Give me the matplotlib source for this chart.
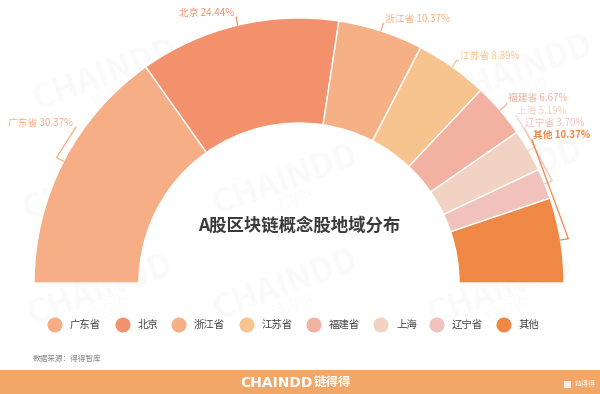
import matplotlib
matplotlib.use('Agg')
import matplotlib.pyplot as plt
from matplotlib.patches import Wedge, Circle, Rectangle
import numpy as np

plt.rcParams['font.family'] = ['Noto Sans CJK SC', 'DejaVu Sans']

# data
regions = ['广东省', '北京', '浙江省', '江苏省', '福建省', '上海', '辽宁省', '其他']
shares = [30.37, 24.44, 10.37, 8.89, 6.67, 5.19, 3.70, 10.37]
colors = ['#F5AE85', '#F4916D', '#F6B086', '#F7C38E', '#F2B1A1', '#F2D3C3', '#F1C1BB', '#EF8844']

# label anchors in pixel coords (x, y from top), side
label_pos = [(73, 123, 'right'), (234, 13, 'right'), (385, 19, 'left'), (460, 56, 'left'),
             (508, 98, 'left'), (517, 111, 'left'), (525, 123, 'left'), (533, 135, 'left')]
legend_x = [55, 123, 179, 247, 314, 381, 437, 504]

W, H = 600, 394
fig = plt.figure(figsize=(6, 3.94), dpi=100)
ax = fig.add_axes([0, 0, 1, 1])
ax.set_xlim(0, W)
ax.set_ylim(0, H)
ax.set_aspect('equal')
ax.axis('off')


def Y(y):
    return H - y


# faint watermarks
for wx, wy in [(105, 75), (300, 80), (520, 70), (95, 185), (285, 180), (510, 175),
               (100, 290), (285, 285), (500, 290)]:
    ax.text(wx, Y(wy), 'CHAINDD', fontsize=24, fontweight='bold', color='#000000',
            alpha=0.022, rotation=20, ha='center', va='center', zorder=0)
    ax.text(wx + 8, Y(wy + 22), '链得得', fontsize=11, color='#000000',
            alpha=0.02, rotation=20, ha='center', va='center', zorder=0)

cx, cy = 299, Y(283)
R, r = 265, 160

start = 180.0
mids = []
for share, col in zip(shares, colors):
    span = share * 1.8
    t2 = start
    t1 = start - span
    ax.add_patch(Wedge((cx, cy), R, t1, t2, width=R - r, facecolor=col,
                       edgecolor='white', linewidth=1.0, zorder=2))
    mids.append(np.deg2rad((t1 + t2) / 2))
    start = t1

# labels with leader lines
for i, (name, share) in enumerate(zip(regions, shares)):
    lx, ly, ha = label_pos[i]
    a = mids[i]
    p1 = (cx + R * np.cos(a), cy + R * np.sin(a))
    p2 = (cx + (R + 8) * np.cos(a), cy + (R + 8) * np.sin(a))
    if ha == 'left':
        p3 = (lx - 1, Y(ly + 5))
    else:
        p3 = (lx + 3, Y(ly + 4))
    ax.plot([p1[0], p2[0], p3[0]], [p1[1], p2[1], p3[1]], color=colors[i],
            linewidth=0.9, zorder=3, solid_capstyle='round')
    ax.text(lx, Y(ly), f'{name} {share:.2f}%', fontsize=7, color=colors[i],
            ha=ha, va='center', zorder=4,
            fontweight='bold' if name == '其他' else 'normal')

# title in center
ax.text(299, Y(226), 'A股区块链概念股地域分布', fontsize=12.5, fontweight='bold',
        color='#3a3a3a', ha='center', va='center', zorder=4)

# legend
for x, name, col in zip(legend_x, regions, colors):
    ax.add_patch(Circle((x, Y(325)), 7.5, facecolor=col, edgecolor='none', zorder=3))
    ax.text(x + 15, Y(325), name, fontsize=7.5, color='#444444', ha='left',
            va='center', zorder=4)

# source
ax.text(33, Y(359), '数据来源：得得智库', fontsize=5.5, color='#888888',
        ha='left', va='center')

# footer bar
ax.add_patch(Rectangle((0, 0), W, H - 370, facecolor='#F0A768', edgecolor='none', zorder=1))
ax.text(276, Y(383), 'CHAINDD', fontsize=10, fontweight='bold', color='white',
        ha='center', va='center', family='DejaVu Sans', zorder=4)
ax.text(332, Y(383), '链得得', fontsize=9, fontweight='bold', color='white',
        ha='center', va='center', zorder=4)
ax.add_patch(Rectangle((564, Y(388)), 7, 7, facecolor='#ffffff', alpha=0.8,
                       edgecolor='none', zorder=4))
ax.text(575, Y(384), '链得得', fontsize=5, color='white', alpha=0.85,
        ha='left', va='center', zorder=4)

fig.savefig('out.png', dpi=100)
